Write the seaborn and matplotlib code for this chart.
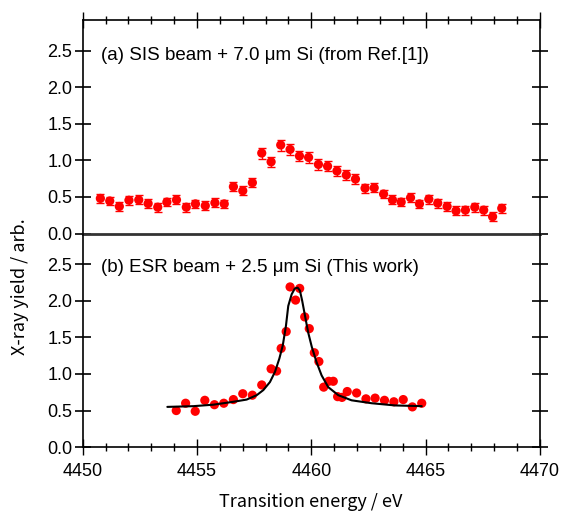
import matplotlib
matplotlib.use("Agg")
import matplotlib.pyplot as plt
import numpy as np
import pandas as pd
import seaborn as sns
from matplotlib.ticker import MultipleLocator

# (a) SIS beam
sis_energy = [
    4450.77, 4451.18, 4451.60, 4452.02, 4452.45, 4452.86, 4453.28, 4453.68,
    4454.10, 4454.53, 4454.93, 4455.36, 4455.78, 4456.19, 4456.59, 4457.00,
    4457.42, 4457.83, 4458.24, 4458.66, 4459.07, 4459.48, 4459.88, 4460.31,
    4460.71, 4461.12, 4461.53, 4461.93, 4462.35, 4462.75, 4463.16, 4463.55,
    4463.93, 4464.34, 4464.73, 4465.14, 4465.53, 4465.94, 4466.33, 4466.74,
    4467.15, 4467.54, 4467.93, 4468.33,
]
sis_yield = [
    0.48, 0.445, 0.37, 0.455, 0.46, 0.41, 0.36, 0.43,
    0.46, 0.36, 0.405, 0.38, 0.42, 0.405, 0.64, 0.585,
    0.695, 1.10, 0.98, 1.21, 1.15, 1.06, 1.04, 0.945,
    0.92, 0.855, 0.80, 0.745, 0.62, 0.625, 0.54, 0.46,
    0.43, 0.49, 0.405, 0.47, 0.415, 0.37, 0.31, 0.32,
    0.36, 0.32, 0.23, 0.345,
]
sis_err = [
    0.06, 0.06, 0.06, 0.06, 0.06, 0.06, 0.06, 0.06,
    0.06, 0.06, 0.06, 0.06, 0.06, 0.06, 0.065, 0.065,
    0.065, 0.075, 0.07, 0.075, 0.075, 0.07, 0.07, 0.07,
    0.07, 0.065, 0.065, 0.065, 0.06, 0.06, 0.06, 0.06,
    0.06, 0.06, 0.06, 0.06, 0.06, 0.06, 0.06, 0.06,
    0.06, 0.06, 0.06, 0.06,
]

# (b) ESR beam
esr_energy = [
    4454.09, 4454.50, 4454.92, 4455.34, 4455.76, 4456.17, 4456.59, 4457.00,
    4457.42, 4457.83, 4458.24, 4458.48, 4458.68, 4458.90, 4459.07, 4459.31,
    4459.49, 4459.71, 4459.91, 4460.13, 4460.33, 4460.54, 4460.76, 4460.96,
    4461.15, 4461.34, 4461.57, 4461.98, 4462.39, 4462.79, 4463.20, 4463.61,
    4464.02, 4464.42, 4464.83,
]
esr_yield = [
    0.50, 0.60, 0.49, 0.64, 0.58, 0.60, 0.65, 0.73,
    0.71, 0.85, 1.07, 1.04, 1.35, 1.58, 2.19, 2.01,
    2.17, 1.78, 1.62, 1.29, 1.17, 0.82, 0.90, 0.90,
    0.69, 0.68, 0.76, 0.74, 0.66, 0.67, 0.64, 0.62,
    0.65, 0.55, 0.60,
]

# fitted curve
fit_energy = [
    4453.70, 4454.84, 4455.71, 4456.59, 4457.17, 4457.61, 4457.90, 4458.19,
    4458.41, 4458.60, 4458.75, 4458.89, 4458.99, 4459.14, 4459.28, 4459.40,
    4459.50, 4459.60, 4459.72, 4459.86, 4460.02, 4460.23, 4460.45, 4460.74,
    4461.18, 4461.76, 4462.64, 4463.66, 4464.83,
]
fit_yield = [
    0.55, 0.56, 0.58, 0.62, 0.65, 0.71, 0.78, 0.89,
    1.03, 1.21, 1.39, 1.66, 1.93, 2.09, 2.17, 2.18,
    2.14, 2.00, 1.80, 1.57, 1.37, 1.16, 0.98, 0.82,
    0.71, 0.64, 0.60, 0.57, 0.56,
]

y_ticks = [0.0, 0.5, 1.0, 1.5, 2.0, 2.5]
x_ticks = [4450, 4455, 4460, 4465, 4470]

sis = pd.DataFrame({"energy": sis_energy, "yield": sis_yield, "err": sis_err})
esr = pd.DataFrame({"energy": esr_energy, "yield": esr_yield})
fit = pd.DataFrame({"energy": fit_energy, "yield": fit_yield})

sns.set_style("ticks")
plt.rcParams["font.family"] = ["Liberation Sans", "DejaVu Sans"]
plt.rcParams["text.color"] = "black"
plt.rcParams["xtick.color"] = "black"
plt.rcParams["ytick.color"] = "black"
plt.rcParams["axes.labelcolor"] = "black"

fig, (ax_a, ax_b) = plt.subplots(2, 1, figsize=(5.63, 5.11), dpi=100, sharex=True)
fig.subplots_adjust(left=0.147, right=0.959, top=0.961, bottom=0.125, hspace=0)

red = "#ff0000"

ax_a.errorbar(sis["energy"], sis["yield"], yerr=sis["err"], fmt="none",
              ecolor=red, elinewidth=1.0, capsize=3.2, capthick=1.0, zorder=2)
sns.scatterplot(data=sis, x="energy", y="yield", ax=ax_a, color=red,
                s=44, edgecolor="none", zorder=3, legend=False)

sns.scatterplot(data=esr, x="energy", y="yield", ax=ax_b, color=red,
                s=44, edgecolor="none", zorder=2, legend=False)
sns.lineplot(data=fit, x="energy", y="yield", ax=ax_b, color="black",
             linewidth=1.5, sort=False, estimator=None, zorder=3)

for ax in (ax_a, ax_b):
    ax.set_xlim(4450, 4470)
    ax.set_ylim(0, 2.92)
    ax.set_yticks(y_ticks)
    ax.set_yticklabels([f"{v:.1f}" for v in y_ticks])
    ax.xaxis.set_minor_locator(MultipleLocator(1))
    ax.set_xlabel("")
    ax.set_ylabel("")
    for s in ax.spines.values():
        s.set_linewidth(1.2)
        s.set_color("black")
    ax.tick_params(axis="y", which="major", direction="inout", length=11,
                   width=1.2, left=True, right=True, labelsize=13, pad=2,
                   colors="black")
    ax.tick_params(axis="x", which="major", direction="inout", length=11,
                   width=1.0, labelsize=13, pad=6, colors="black")
    ax.tick_params(axis="x", which="minor", direction="inout", length=6,
                   width=1.0, colors="black")

ax_a.tick_params(axis="x", which="both", top=True, bottom=False, labelbottom=False)
ax_b.tick_params(axis="x", which="both", top=False, bottom=True)
ax_b.patch.set_visible(False)
ax_a.spines["bottom"].set_color("#333333")
ax_a.spines["bottom"].set_linewidth(2.0)
ax_a.spines["bottom"].set_zorder(5)
ax_b.spines["top"].set_visible(False)
ax_b.set_xticks(x_ticks)

ax_a.text(4450.8, 2.44, "(a) SIS beam + 7.0 \u03bcm Si (from Ref.[1])",
          fontsize=13.5, va="center", ha="left", color="black")
ax_b.text(4450.8, 2.45, "(b) ESR beam + 2.5 \u03bcm Si (This work)",
          fontsize=13.5, va="center", ha="left", color="black")

fig.text(0.035, 1 - 287 / 511, "X-ray yield / arb.", rotation=90,
         fontsize=13, va="center", ha="center", color="black",
         family=["Noto Sans CJK JP", "DejaVu Sans"])
fig.text(311 / 563, 1 - 502 / 511, "Transition energy / eV",
         fontsize=13, va="center", ha="center", color="black",
         family=["Noto Sans CJK JP", "DejaVu Sans"])

fig.savefig("out.png", dpi=100)
